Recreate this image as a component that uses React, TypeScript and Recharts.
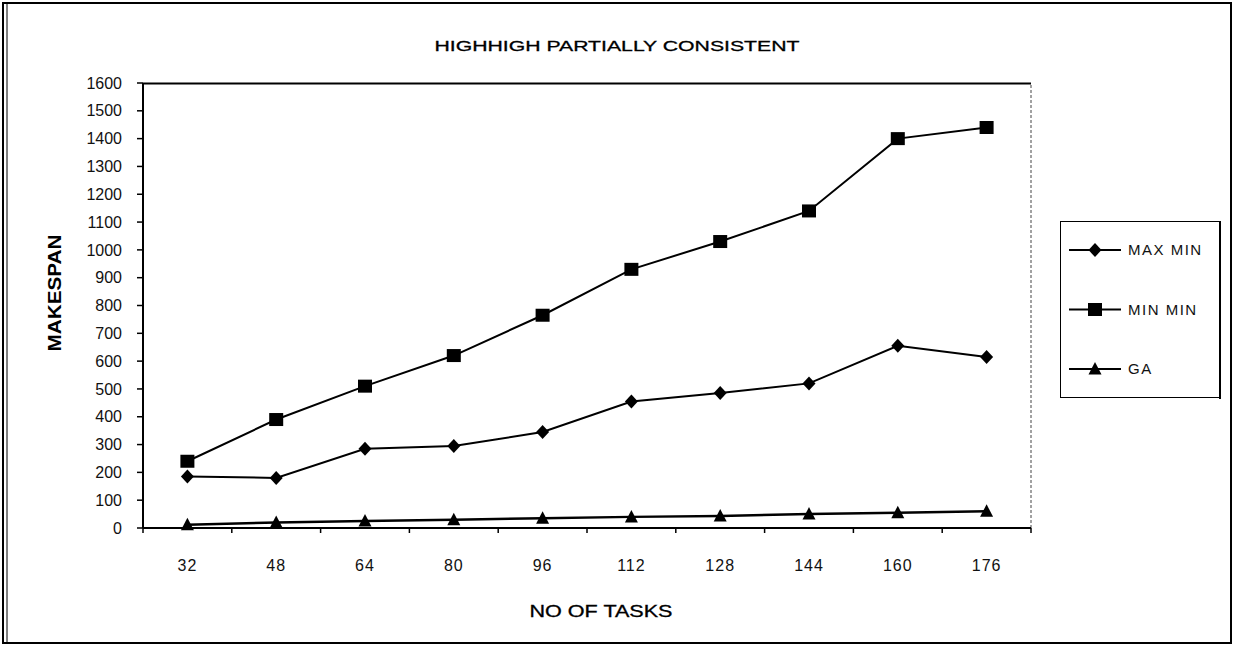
import { LineChart, Line, XAxis, YAxis, Legend, ReferenceLine } from "recharts";

const tasks = [32, 48, 64, 80, 96, 112, 128, 144, 160, 176];
const maxMin = [185, 180, 285, 295, 345, 455, 485, 520, 655, 615];
const minMin = [240, 390, 510, 620, 765, 930, 1030, 1140, 1400, 1440];
const ga = [12, 20, 25, 30, 35, 40, 43, 50, 55, 60];
const yTicks = [0, 100, 200, 300, 400, 500, 600, 700, 800, 900, 1000, 1100, 1200, 1300, 1400, 1500, 1600];
// band edges between the task counts (where the tick marks sit)
const xEdges = [24, 40, 56, 72, 88, 104, 120, 136, 152, 168, 184];
const seriesOrder = ["maxMin", "minMin", "ga"];

const data = tasks.map((t, i) => ({ tasks: t, maxMin: maxMin[i], minMin: minMin[i], ga: ga[i] }));
const xTicks = [...xEdges, ...tasks].sort((a, b) => a - b);
const xMin = xEdges[0];
const xMax = xEdges[xEdges.length - 1];
const yMax = yTicks[yTicks.length - 1];

const FONT = '"Liberation Sans", Arial, Helvetica, sans-serif';
const X_TICK_SIZE = 5;
const X_TICK_MARGIN = 26;

const Diamond = ({ cx, cy, index }: any) =>
  cx == null ? null : (
    <path key={`d${index}`} d={`M${cx},${cy - 7}L${cx + 6.5},${cy}L${cx},${cy + 7}L${cx - 6.5},${cy}Z`} fill="#000" />
  );
const Square = ({ cx, cy, index }: any) =>
  cx == null ? null : <rect key={`s${index}`} x={cx - 7} y={cy - 6.5} width={14} height={13} fill="#000" />;
const Triangle = ({ cx, cy, index }: any) =>
  cx == null ? null : (
    <path key={`t${index}`} d={`M${cx},${cy - 7}L${cx + 6.5},${cy + 5.5}L${cx - 6.5},${cy + 5.5}Z`} fill="#000" />
  );

const XTick = ({ x, y, payload }: any) => {
  const v = payload.value;
  if (tasks.includes(v)) {
    return (
      <text x={x} y={y} dy={12} textAnchor="middle" fontSize={16} letterSpacing={1} fontFamily={FONT} fill="#111">
        {v}
      </text>
    );
  }
  const top = y - X_TICK_SIZE - X_TICK_MARGIN;
  return <line x1={x} x2={x} y1={top} y2={top + X_TICK_SIZE} stroke="#000" strokeWidth={1.5} />;
};

const markers: Record<string, (p: any) => any> = { maxMin: Diamond, minMin: Square, ga: Triangle };

const LegendBox = ({ payload }: any) => {
  const items = [...(payload || [])].sort(
    (a: any, b: any) => seriesOrder.indexOf(a.dataKey) - seriesOrder.indexOf(b.dataKey)
  );
  return (
    <svg width={161} height={178} style={{ display: "block" }}>
      <rect x={0.5} y={0.5} width={159} height={176} fill="#fff" stroke="#000" strokeWidth={1} />
      <line x1={160} x2={160} y1={0} y2={178} stroke="#000" strokeWidth={2} />
      {items.map((p: any, i: number) => {
        const cy = 29 + i * 59.5;
        const Mark = markers[p.dataKey as string];
        return (
          <g key={p.value}>
            <line x1={9} x2={61} y1={cy} y2={cy} stroke="#000" strokeWidth={2} />
            {Mark({ cx: 35, cy, index: i })}
            <text x={68} y={cy + 5} fontSize={15} letterSpacing={1.5} fontFamily={FONT} fill="#111">
              {p.value}
            </text>
          </g>
        );
      })}
    </svg>
  );
};

export default function App() {
  return (
    <div style={{ position: "absolute", left: 0, top: 0, width: 1236, height: 647, background: "#fff" }}>
      <div style={{ position: "absolute", left: 0, top: 0 }}>
        <LineChart width={1236} height={647} data={data} margin={{ top: 83, right: 205, bottom: 79, left: 83 }}>
          <XAxis
            dataKey="tasks"
            type="number"
            domain={[xMin, xMax]}
            ticks={xTicks}
            interval={0}
            tick={<XTick />}
            tickLine={false}
            tickSize={X_TICK_SIZE}
            tickMargin={X_TICK_MARGIN}
            axisLine={{ stroke: "#000", strokeWidth: 2 }}
            height={40}
          />
          <YAxis
            type="number"
            domain={[0, yMax]}
            ticks={yTicks}
            interval={0}
            width={60}
            tickSize={6}
            tickMargin={15}
            tickLine={{ stroke: "#000", strokeWidth: 1.5 }}
            axisLine={{ stroke: "#000", strokeWidth: 2 }}
            tick={{ fontSize: 16, fill: "#111", fontFamily: FONT }}
          />
          <ReferenceLine x={xMax} stroke="#444" strokeWidth={1} strokeDasharray="3 2" ifOverflow="visible" />
          <Legend
            layout="vertical"
            align="center"
            verticalAlign="middle"
            content={<LegendBox />}
            wrapperStyle={{ position: "absolute", left: 1060, top: 221, width: 161, height: 178 }}
          />
          <Line
            dataKey="maxMin"
            name="MAX MIN"
            type="linear"
            stroke="#000"
            strokeWidth={2}
            dot={Diamond}
            activeDot={false}
            isAnimationActive={false}
          />
          <Line
            dataKey="minMin"
            name="MIN MIN"
            type="linear"
            stroke="#000"
            strokeWidth={2}
            dot={Square}
            activeDot={false}
            isAnimationActive={false}
          />
          <Line
            dataKey="ga"
            name="GA"
            type="linear"
            stroke="#000"
            strokeWidth={2.5}
            dot={Triangle}
            activeDot={false}
            isAnimationActive={false}
          />
        </LineChart>
      </div>
      <svg width={1236} height={647} style={{ position: "absolute", left: 0, top: 0, pointerEvents: "none" }}>
        <rect x={3} y={3} width={1228} height={640} fill="none" stroke="#000" strokeWidth={2} />
        <line x1={7} x2={7} y1={3} y2={643} stroke="#000" strokeWidth={1} />
        {/* top edge of the plot frame */}
        <line x1={143} x2={1031} y1={83.5} y2={83.5} stroke="#000" strokeWidth={2} />
        <text x={617} y={51} fontSize={15.5} fontFamily={FONT} fill="#000" textAnchor="middle" textLength={365} lengthAdjust="spacingAndGlyphs" stroke="#000" strokeWidth={0.3}>
          HIGHHIGH PARTIALLY CONSISTENT
        </text>
        <text x={601} y={617} fontSize={16} fontFamily={FONT} fill="#000" textAnchor="middle" textLength={143} lengthAdjust="spacingAndGlyphs" stroke="#000" strokeWidth={0.3}>
          NO OF TASKS
        </text>
        <text
          x={54}
          y={293}
          fontSize={19}
          fontWeight="bold"
          fontFamily={FONT}
          fill="#000"
          textAnchor="middle"
          dominantBaseline="central"
          textLength={117}
          lengthAdjust="spacingAndGlyphs"
          transform="rotate(-90, 54, 293)"
        >
          MAKESPAN
        </text>
      </svg>
    </div>
  );
}
